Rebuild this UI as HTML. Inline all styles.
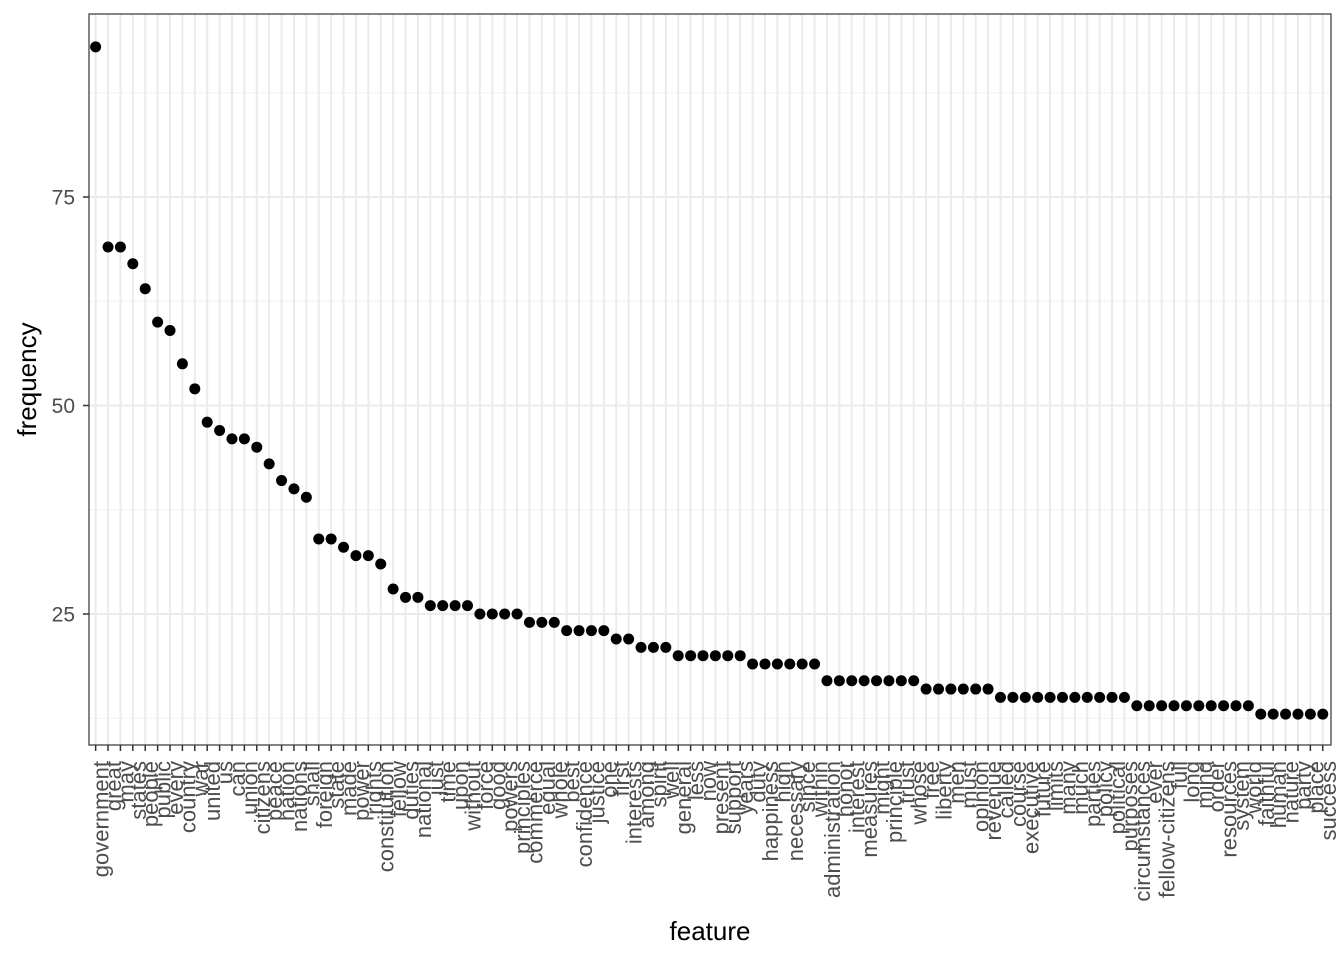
<!DOCTYPE html>
<html><head><meta charset="utf-8"><style>body{margin:0;background:#fff}svg{display:block;font-family:"Liberation Sans",Arial,sans-serif}</style></head>
<body>
<svg id="chart" width="1344" height="960"></svg>
<script>
const categories=["government","great","may","states","people","public","every","country","war","united","us","can","union","citizens","peace","nation","nations","shall","foreign","state","made","power","rights","constitution","fellow","duties","national","just","time","upon","without","force","good","powers","principles","commerce","equal","whole","best","confidence","justice","one","first","interests","among","spirit","well","general","less","now","present","support","years","duty","happiness","high","necessary","since","within","administration","honor","interest","measures","might","principle","trust","whose","free","liberty","men","must","opinion","revenue","called","course","executive","future","limits","many","much","parties","policy","political","purposes","circumstances","ever","fellow-citizens","full","long","mind","order","resources","system","world","faithful","human","nature","party","place","success"];
const frequency=[93,69,69,67,64,60,59,55,52,48,47,46,46,45,43,41,40,39,34,34,33,32,32,31,28,27,27,26,26,26,26,25,25,25,25,24,24,24,23,23,23,23,22,22,21,21,21,20,20,20,20,20,20,19,19,19,19,19,19,17,17,17,17,17,17,17,17,16,16,16,16,16,16,15,15,15,15,15,15,15,15,15,15,15,14,14,14,14,14,14,14,14,14,14,13,13,13,13,13,13];
const yTicks=[25,50,75];
const yMinor=[12.5,37.5,62.5,87.5];
const NS="http://www.w3.org/2000/svg";
const svg=document.getElementById('chart');
const L=89,R=1331,T=14,B=745;
const n=categories.length;
const step=(R-L)/(n-1+1.2);
function xs(i){return L+(i+0.6)*step-0.8;}
function ys(v){return 614-(v-25)*8.34;}
function mk(tag,attrs,parent){const e=document.createElementNS(NS,tag);for(const k in attrs)e.setAttribute(k,attrs[k]);(parent||svg).appendChild(e);return e;}
const grid=mk('g',{});


yMinor.forEach(v=>{mk('line',{x1:L,x2:R,y1:ys(v),y2:ys(v),stroke:'#f2f2f2','stroke-width':1},grid);});
yTicks.forEach(v=>{mk('line',{x1:L,x2:R,y1:ys(v),y2:ys(v),stroke:'#ebebeb','stroke-width':2},grid);});
categories.forEach((c,i)=>{mk('line',{x1:xs(i),x2:xs(i),y1:T,y2:B,stroke:'#ebebeb','stroke-width':2},grid);});
const pts=mk('g',{});


frequency.forEach((v,i)=>{const c=mk('circle',{cx:xs(i),cy:ys(v),r:5.5,fill:'#000'},pts);

});
const frame=mk('rect',{x:L,y:T,width:R-L,height:B-T,fill:'none',stroke:'#333','stroke-width':1.2});


const ya=mk('g',{});


yTicks.forEach(v=>{mk('line',{x1:L-6,x2:L,y1:ys(v),y2:ys(v),stroke:'#333','stroke-width':1.5},ya);
const t=mk('text',{x:75,y:ys(v)+7.5,'text-anchor':'end','font-size':'21','fill':'#4d4d4d'},ya);t.textContent=v;});
const xa=mk('g',{});


categories.forEach((c,i)=>{const x=xs(i);mk('line',{x1:x,x2:x,y1:B,y2:B+6,stroke:'#333','stroke-width':1.5},xa);
const t=mk('text',{x:0,y:0,transform:`translate(${x+13},${B+16}) rotate(-90)`,'text-anchor':'end','font-size':'22','fill':'#4d4d4d'},xa);t.textContent=c;

});
const xt=mk('text',{x:(L+R)/2,y:940,'text-anchor':'middle','font-size':'26','fill':'#000'});xt.textContent='feature';


const yt=mk('text',{x:0,y:0,transform:`translate(36,${(T+B)/2}) rotate(-90)`,'text-anchor':'middle','font-size':'26','fill':'#000'});yt.textContent='frequency';


</script>
</body></html>
